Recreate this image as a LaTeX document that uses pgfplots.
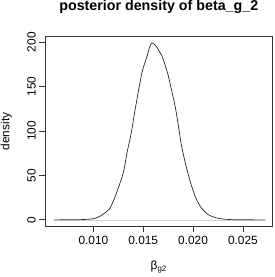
\documentclass[border=0pt]{standalone}
\usepackage{pgfplots}
\pgfplotsset{compat=1.18}
\usepackage{fontspec}
\setmainfont{Liberation Sans}
\begin{document}
\begin{tikzpicture}
\begin{axis}[
  name=ax,
  at={(45.7pt,51pt)}, anchor=south west,
  scale only axis, width=229.3pt, height=192pt,
  xmin=0.00517, xmax=0.02795, ymin=-7.47, ymax=206.6,
  clip=false,
  axis line style={line width=1pt, black!80},
  tick style={line width=0.8pt, black!80},
  tick align=outside, major tick length=6pt,
  xtick pos=left, ytick pos=left,
  xtick={0.010,0.015,0.020,0.025}, ytick={0,50,100,150,200},
  scaled x ticks=false,
  /pgf/number format/assume math mode=true,
  xticklabel style={/pgf/number format/.cd, fixed, fixed zerofill, precision=3, /tikz/.cd, font=\fontsize{12}{14}\selectfont},
  yticklabel style={rotate=90, anchor=south, font=\fontsize{12}{14}\selectfont},
  title={\textbf{posterior density of beta\_g\_2}},
  title style={at={(axis description cs:0.5,1)}, anchor=center, inner sep=0pt, yshift=24pt, font=\fontsize{14.4}{16}\selectfont},
  xlabel={β\textsubscript{g2}},
  xlabel style={at={(axis description cs:0.5,0)}, anchor=center, inner sep=0pt, yshift=-41pt, font=\fontsize{12}{14}\selectfont},
  ylabel={density},
  ylabel style={at={(axis description cs:-0.1718,0.5)}, anchor=center, inner sep=0pt, font=\fontsize{12}{14}\selectfont},
]
\draw[line width=1pt, black!80] (rel axis cs:0,1) -- (rel axis cs:1,1) -- (rel axis cs:1,0);
\addplot[gray!35, line width=0.5pt] coordinates {(0.0060,0) (0.02725,0)};
\addplot[black!85, line width=0.7pt, smooth] coordinates {
(0.0060,0) (0.0080,0.1) (0.0090,0.4) (0.0100,1.3) (0.0106,3.7) (0.0111,7.5)
(0.0116,12.3) (0.0120,21) (0.0124,33) (0.0130,53) (0.0134,77) (0.0138,98)
(0.0142,125) (0.0146,150) (0.0149,167) (0.0152,178) (0.0154,185) (0.0156,193)
(0.0158,198.5) (0.0159,199.2) (0.0161,198) (0.0164,194) (0.0166,190) (0.0169,184)
(0.0172,174) (0.0175,163) (0.0178,148) (0.0182,128) (0.0185,108) (0.0188,86)
(0.0192,65) (0.0195,52) (0.0198,40) (0.0203,24) (0.0208,14) (0.0215,6)
(0.0225,1.8) (0.0235,0.5) (0.0245,0.1) (0.02725,0)
};
\end{axis}
\draw[line width=1pt, black!80] (ax.north west) -- (ax.north east) -- (ax.south east);
\path (0pt,0pt) rectangle (277pt,277pt);
\end{tikzpicture}
\end{document}
